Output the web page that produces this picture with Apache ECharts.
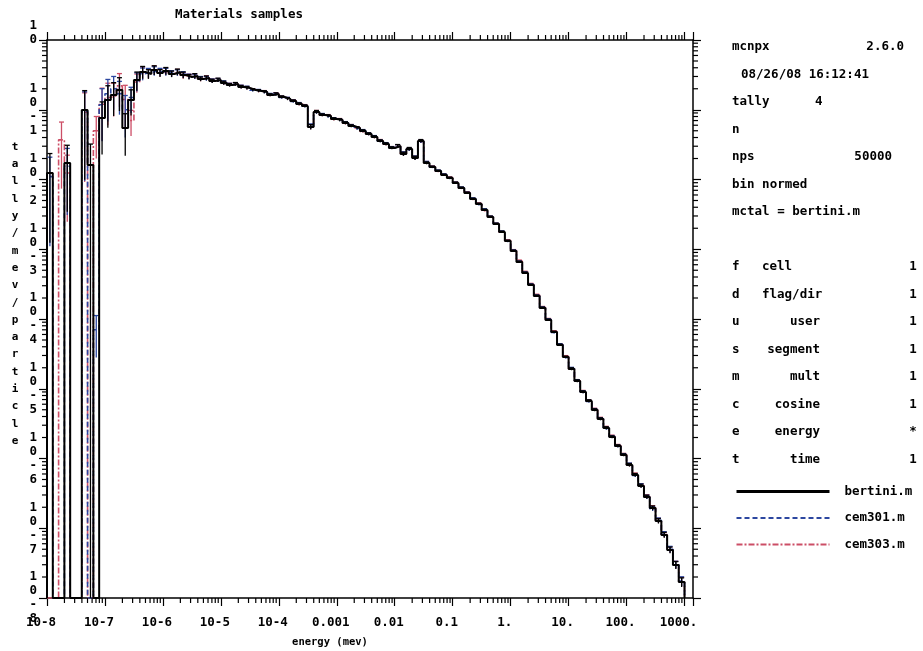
<!DOCTYPE html>
<html>
<head>
<meta charset="utf-8">
<script src="https://cdn.jsdelivr.net/npm/echarts@6/dist/echarts.min.js"></script>
<style>
  html, body { margin: 0; padding: 0; background: #fff; }
  #chart { width: 923px; height: 651px; }
</style>
</head>
<body>
<div id="chart"></div>
<script>
// Tally 4 neutron flux, bin normed, for three intranuclear models.
// Energy bins: 10 per decade starting at 1e-8 MeV.
const E_MIN = 1e-8, E_MAX = 1400;
const Y_MIN = 1e-8, Y_MAX = 1;
const BIN_START = 1e-8, BINS_PER_DECADE = 10;

const xTickLabels = ['10-8', '10-7', '10-6', '10-5', '10-4', '0.001', '0.01', '0.1', '1.', '10.', '100.', '1000.'];
const yTickLabels = ['10-8', '10-7', '10-6', '10-5', '10-4', '10-3', '10-2', '10-1', '10'];
const seriesNames = ['bertini.m', 'cem301.m', 'cem303.m'];

const bertini = [
  0.0124, 0, 0, 0.0172, 0, 0, 0.099, 0.0161, 0, 0.0762,
  0.138, 0.163, 0.192, 0.0548, 0.138, 0.267, 0.348, 0.326, 0.371, 0.336,
  0.360, 0.326, 0.348, 0.315, 0.295, 0.305, 0.276, 0.285, 0.258, 0.267,
  0.242, 0.226, 0.234, 0.212, 0.205, 0.192, 0.186, 0.180, 0.163, 0.168,
  0.152, 0.143, 0.133, 0.121, 0.113, 0.0566, 0.0929, 0.084, 0.0813, 0.0737,
  0.0713, 0.0646, 0.0585, 0.0548, 0.0496, 0.0449, 0.0407, 0.0356, 0.0323, 0.0283,
  0.0302, 0.0232, 0.0274, 0.0203, 0.0356, 0.0172, 0.0151, 0.0132, 0.0116, 0.0105,
  0.00891, 0.00755, 0.00640, 0.00525, 0.00445, 0.00365, 0.00290, 0.00230, 0.00177, 0.00131,
  9.44e-4, 6.56e-4, 4.57e-4, 3.07e-4, 2.14e-4, 1.44e-4, 9.7e-5, 6.5e-5, 4.24e-5, 2.85e-5,
  1.92e-5, 1.29e-5, 8.97e-6, 6.67e-6, 4.96e-6, 3.68e-6, 2.74e-6, 2.03e-6, 1.51e-6, 1.12e-6,
  8.07e-7, 5.80e-7, 4.04e-7, 2.81e-7, 1.95e-7, 1.27e-7, 8.0e-8, 4.88e-8, 2.97e-8, 1.69e-8
];

const cem301 = [
  0.011, 0, 0, 0.0155, 0, 0, 0.095, 0, 7e-5, 0.118,
  0.17, 0.2, 0.17, 0.1, 0.15, 0.26, 0.33, 0.34, 0.36, 0.35,
  0.35, 0.33, 0.34, 0.32, 0.30, 0.30, 0.28, 0.28, 0.26, 0.265,
  0.245, 0.228, 0.232, 0.214, 0.207, 0.19, 0.188, 0.178, 0.165, 0.166,
  0.15, 0.145, 0.132, 0.122, 0.112, 0.058, 0.092, 0.085, 0.08, 0.074,
  0.071, 0.065, 0.059, 0.054, 0.05, 0.045, 0.041, 0.0355, 0.0325, 0.0285,
  0.030, 0.0235, 0.027, 0.0205, 0.035, 0.0175, 0.015, 0.0133, 0.0117, 0.0104,
  0.0089, 0.0076, 0.0064, 0.0053, 0.0044, 0.0037, 0.0029, 0.0023, 0.00178, 0.0013,
  9.5e-4, 6.6e-4, 4.6e-4, 3.1e-4, 2.15e-4, 1.45e-4, 9.8e-5, 6.4e-5, 4.3e-5, 2.8e-5,
  1.95e-5, 1.3e-5, 9.0e-6, 6.6e-6, 5.0e-6, 3.7e-6, 2.7e-6, 2.05e-6, 1.5e-6, 1.13e-6,
  8.2e-7, 5.7e-7, 4.1e-7, 2.8e-7, 1.9e-7, 1.3e-7, 8.2e-8, 5.0e-8, 3.0e-8, 1.75e-8
];

const cem303 = [
  0, 0, 0.037, 0.0124, 0, 0, 0.092, 0, 0.05, 0.12,
  0.15, 0.16, 0.22, 0.14, 0.07, 0.25, 0.34, 0.33, 0.37, 0.34,
  0.355, 0.33, 0.345, 0.31, 0.30, 0.30, 0.275, 0.287, 0.26, 0.265,
  0.24, 0.228, 0.233, 0.213, 0.205, 0.193, 0.185, 0.181, 0.162, 0.169,
  0.151, 0.144, 0.134, 0.12, 0.114, 0.057, 0.093, 0.084, 0.082, 0.073,
  0.072, 0.064, 0.059, 0.055, 0.049, 0.045, 0.0405, 0.036, 0.032, 0.0285,
  0.0300, 0.0233, 0.0272, 0.0204, 0.0352, 0.0174, 0.0152, 0.0131, 0.0117, 0.0106,
  0.0090, 0.0075, 0.0065, 0.0052, 0.0045, 0.0036, 0.0029, 0.0023, 0.00176, 0.00133,
  9.6e-4, 6.8e-4, 4.7e-4, 3.15e-4, 2.2e-4, 1.47e-4, 9.9e-5, 6.6e-5, 4.3e-5, 2.9e-5,
  1.93e-5, 1.3e-5, 9.1e-6, 6.7e-6, 5.05e-6, 3.75e-6, 2.78e-6, 2.08e-6, 1.53e-6, 1.14e-6,
  8.1e-7, 5.9e-7, 4.1e-7, 2.85e-7, 1.97e-7, 1.29e-7, 8.1e-8, 4.95e-8, 3.0e-8, 1.72e-8
];

// relative statistical error per bin
const relErr = [
  0.9, 0, 0.8, 0.8, 0, 0, 0.9, 1.0, 0.6, 0.7,
  0.6, 0.5, 0.5, 0.6, 0.4, 0.3, 0.2, 0.15, 0.15, 0.12,
  0.12, 0.1, 0.1, 0.1, 0.08, 0.08, 0.07, 0.07, 0.06, 0.06,
  0.06, 0.05, 0.05, 0.05, 0.05, 0.04, 0.04, 0.04, 0.04, 0.04,
  0.04, 0.04, 0.04, 0.04, 0.04, 0.08, 0.05, 0.04, 0.04, 0.04,
  0.04, 0.04, 0.04, 0.04, 0.04, 0.04, 0.04, 0.04, 0.04, 0.04,
  0.05, 0.06, 0.05, 0.06, 0.05, 0.04, 0.03, 0.03, 0.03, 0.03,
  0.03, 0.03, 0.03, 0.03, 0.03, 0.03, 0.03, 0.03, 0.03, 0.03,
  0.03, 0.03, 0.03, 0.03, 0.03, 0.03, 0.03, 0.03, 0.03, 0.03,
  0.04, 0.04, 0.04, 0.04, 0.04, 0.04, 0.04, 0.04, 0.04, 0.04,
  0.05, 0.05, 0.06, 0.06, 0.07, 0.08, 0.09, 0.1, 0.12, 0.15
];

const nBins = bertini.length;
const edges = [];
for (let k = 0; k <= nBins; k++) edges.push(BIN_START * Math.pow(10, k / BINS_PER_DECADE));

const FONT = '"DejaVu Sans Mono", "Liberation Mono", monospace';
const INK = '#000';
const BLUE = '#2c47a0';
const RED = '#cc4e66';

// histogram outline: value k holds over [edges[k], edges[k+1]]; empty bins fall to the axis floor
function stepPoints(vals) {
  const pts = [[edges[0], Y_MIN]];
  vals.forEach((v, k) => pts.push([edges[k], v > 0 ? v : Y_MIN]));
  pts.push([edges[nBins], Y_MIN]);
  return pts;
}

function histSeries(name, vals, color, width, dash, z) {
  return {
    name, type: 'line', step: 'end', symbol: 'none', silent: true, z,
    data: stepPoints(vals),
    lineStyle: { color, width, type: dash },
    itemStyle: { color }
  };
}

function errorSeries(vals, color, z) {
  const data = [];
  vals.forEach((v, k) => {
    if (v > 0 && relErr[k] > 0) data.push([Math.sqrt(edges[k] * edges[k + 1]), v, relErr[k]]);
  });
  return {
    type: 'custom', silent: true, z, clip: true, data,
    encode: { x: 0, y: 1 },
    renderItem(params, api) {
      const x = api.value(0), v = api.value(1), s = api.value(2);
      const hi = api.coord([x, v * (1 + s)]);
      const lo = api.coord([x, Math.max(v * (1 - s), Y_MIN)]);
      const st = { stroke: color, lineWidth: 1.3 };
      return {
        type: 'group', children: [
          { type: 'line', shape: { x1: hi[0], y1: hi[1], x2: lo[0], y2: lo[1] }, style: st },
          { type: 'line', shape: { x1: hi[0] - 2.5, y1: hi[1], x2: hi[0] + 2.5, y2: hi[1] }, style: st }
        ]
      };
    }
  };
}

// minor log ticks (2..9 in every decade) on all four frame sides
const minorX = [];
for (let e = -8; e <= 3; e++) for (let m = 2; m <= 9; m++) {
  const v = m * Math.pow(10, e);
  if (v < E_MAX) minorX.push([v, Y_MIN]);
}
const minorY = [];
for (let e = -8; e < 0; e++) for (let m = 2; m <= 9; m++) minorY.push([E_MIN, m * Math.pow(10, e)]);

const tickStyle = { stroke: INK, lineWidth: 1.2 };
const minorXSeries = {
  type: 'custom', silent: true, clip: false, z: 10, data: minorX, encode: { x: 0, y: 1 },
  renderItem(params, api) {
    const v = api.value(0);
    const b = api.coord([v, Y_MIN]), t = api.coord([v, Y_MAX]);
    return { type: 'group', children: [
      { type: 'line', shape: { x1: b[0], y1: b[1], x2: b[0], y2: b[1] + 5 }, style: tickStyle },
      { type: 'line', shape: { x1: t[0], y1: t[1], x2: t[0], y2: t[1] - 5 }, style: tickStyle }
    ] };
  }
};
const minorYSeries = {
  type: 'custom', silent: true, clip: false, z: 10, data: minorY, encode: { x: 0, y: 1 },
  renderItem(params, api) {
    const v = api.value(1);
    const l = api.coord([E_MIN, v]), r = api.coord([E_MAX, v]);
    return { type: 'group', children: [
      { type: 'line', shape: { x1: l[0], y1: l[1], x2: l[0] - 5, y2: l[1] }, style: tickStyle },
      { type: 'line', shape: { x1: r[0], y1: r[1], x2: r[0] + 5, y2: r[1] }, style: tickStyle }
    ] };
  }
};

function decade(v) {
  const e = Math.log10(v), r = Math.round(e);
  return Math.abs(e - r) < 1e-6 ? r : null;
}

const axisBase = {
  type: 'log', logBase: 10, interval: 1,
  splitLine: { show: false },
  minorTick: { show: false },
  axisLine: { show: true, onZero: false, lineStyle: { color: INK, width: 1.5 } },
  axisTick: { show: true, inside: false, length: 8, lineStyle: { color: INK, width: 1.2 } }
};

const labelFont = { fontFamily: FONT, fontSize: 12.5, fontWeight: 'bold', color: INK };

// text block to the right of the frame
const RX = 732, ROW0 = 47, ROWH = 27.5;
const rowY = i => ROW0 + ROWH * i;
const infoFont = 'bold 12.5px ' + FONT;
function txt(text, x, y, align) {
  return {
    type: 'text', x, y, silent: true,
    style: { text, font: infoFont, fill: INK, align: align || 'left', verticalAlign: 'middle',
             textAlign: align || 'left', textVerticalAlign: 'middle' }
  };
}
const tallyRows = [
  ['f', 'cell', '1', 'left'],
  ['d', 'flag/dir', '1', 'left'],
  ['u', 'user', '1', 'right'],
  ['s', 'segment', '1', 'right'],
  ['m', 'mult', '1', 'right'],
  ['c', 'cosine', '1', 'right'],
  ['e', 'energy', '*', 'right'],
  ['t', 'time', '1', 'right']
];
const graphics = [
  txt('Materials samples', 175, 15),
  txt('mcnpx', RX, rowY(0)), txt('2.6.0', 904, rowY(0), 'right'),
  txt('08/26/08 16:12:41', 741, rowY(1)),
  txt('tally', RX, rowY(2)), txt('4', 815, rowY(2)),
  txt('n', RX, rowY(3)),
  txt('nps', RX, rowY(4)), txt('50000', 892, rowY(4), 'right'),
  txt('bin normed', RX, rowY(5)),
  txt('mctal = bertini.m', RX, rowY(6))
];
tallyRows.forEach((r, i) => {
  const y = rowY(8 + i);
  graphics.push(txt(r[0], RX, y));
  graphics.push(r[3] === 'left' ? txt(r[1], 762, y) : txt(r[1], 820, y, 'right'));
  graphics.push(txt(r[2], 913, y, 'center'));
});
graphics.push({
  type: 'text', x: 330, y: 642, silent: true,
  style: { text: 'energy (mev)', font: 'bold 10.5px ' + FONT, fill: INK,
           align: 'center', verticalAlign: 'middle', textAlign: 'center', textVerticalAlign: 'middle' }
});
graphics.push({
  type: 'text', x: 15, y: 294, silent: true,
  style: { text: 'tally/mev/particle'.split('').join('\n'), font: 'bold 11px ' + FONT, fill: INK,
           lineHeight: 17.3, align: 'center', verticalAlign: 'middle', textAlign: 'center', textVerticalAlign: 'middle' }
});

const chart = echarts.init(document.getElementById('chart'), null, { renderer: 'canvas' });
chart.setOption({
  animation: false,
  backgroundColor: '#fff',
  grid: { left: 47, right: 230, top: 40, bottom: 53, containLabel: false, outerBoundsMode: 'none' },
  xAxis: [
    Object.assign({}, axisBase, {
      position: 'bottom', min: E_MIN, max: E_MAX,
      axisLabel: Object.assign({}, labelFont, {
        margin: 18, padding: [0, 12, 0, 0],
        formatter: v => { const d = decade(v); return d === null ? '' : (xTickLabels[d + 8] || ''); }
      })
    }),
    Object.assign({}, axisBase, {
      position: 'top', min: E_MIN, max: E_MAX, axisLabel: { show: false }
    })
  ],
  yAxis: [
    Object.assign({}, axisBase, {
      position: 'left', min: Y_MIN, max: Y_MAX,
      axisLabel: Object.assign({}, labelFont, {
        margin: 10, lineHeight: 14, padding: [0, 0, 6, 0],
        formatter: v => {
          const d = decade(v);
          if (d === null) return '';
          const s = yTickLabels[d + 8];
          if (!s) return '';
          return s.split('').join('\n') + (s.length < 4 ? '\n ' : '');
        }
      })
    }),
    Object.assign({}, axisBase, {
      position: 'right', min: Y_MIN, max: Y_MAX, axisLabel: { show: false }
    })
  ],
  legend: {
    orient: 'vertical', left: 730, top: 480,
    itemWidth: 93, itemHeight: 14, itemGap: 13.5,
    selectedMode: false,
    data: [
      { name: seriesNames[0], lineStyle: { width: 3 } },
      { name: seriesNames[1] },
      { name: seriesNames[2] }
    ],
    itemStyle: { opacity: 0 },
    textStyle: { fontFamily: FONT, fontSize: 12.5, fontWeight: 'bold', color: INK, padding: [0, 0, 0, 10] }
  },
  graphic: graphics,
  series: [
    histSeries(seriesNames[0], bertini, INK, 2, 'solid', 6),
    histSeries(seriesNames[1], cem301, BLUE, 1.6, [5, 3], 5),
    histSeries(seriesNames[2], cem303, RED, 1.6, [6, 2, 2, 2], 4),
    errorSeries(cem303, RED, 4),
    errorSeries(cem301, BLUE, 5),
    errorSeries(bertini, INK, 6),
    minorXSeries,
    minorYSeries
  ]
});
</script>
</body>
</html>
